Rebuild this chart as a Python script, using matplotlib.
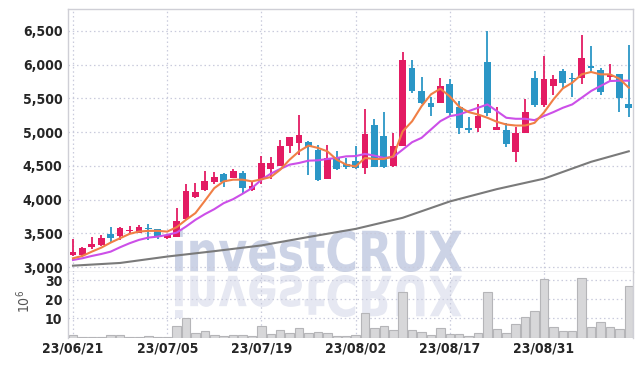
"""
candle chart with moving averages and volume panel
"""
import matplotlib
matplotlib.use('Agg')
import matplotlib.pyplot as plt
import numpy as np
from matplotlib.ticker import FuncFormatter, FixedLocator
from matplotlib.textpath import TextPath
from matplotlib.patches import PathPatch
from matplotlib.font_manager import FontProperties
from matplotlib.transforms import Affine2D, IdentityTransform

# ---- data (prices in KRW, volume in 10^6 shares) ----
opens = [3180, 3180, 3300, 3330, 3490, 3455, 3540, 3510, 3580, 3560,
         3425, 3450, 3715, 4035, 4145, 4255, 4385, 4320, 4400, 4135,
         4300, 4455, 4505, 4800, 4840, 4850, 4740, 4305, 4620, 4530,
         4565, 4470, 5105, 4945, 4495, 4800, 5945, 5615, 5430, 5430,
         5720, 5375, 5065, 5065, 6035, 5030, 5030, 4705, 4990, 5805,
         5405, 5685, 5900, 5800, 5810, 5980, 5915, 5815, 5855, 5410]
highs = [3410, 3295, 3450, 3475, 3600, 3600, 3610, 3620, 3640, 3560,
         3480, 3870, 4235, 4240, 4430, 4410, 4390, 4455, 4430, 4270,
         4650, 4630, 4880, 4930, 5255, 4870, 4815, 4815, 4715, 4620,
         4790, 5345, 5195, 5295, 4985, 6195, 6065, 5820, 5525, 5810,
         5790, 5460, 5230, 5410, 6500, 5375, 5135, 5080, 5485, 5905,
         6135, 5840, 5940, 5870, 6440, 6280, 5955, 6015, 5855, 6290]
lows = [3160, 3145, 3265, 3310, 3360, 3400, 3500, 3500, 3400, 3410,
        3410, 3450, 3700, 4025, 4120, 4235, 4190, 4320, 4085, 4125,
        4230, 4305, 4495, 4690, 4665, 4370, 4270, 4305, 4435, 4460,
        4460, 4385, 4485, 4475, 4490, 4800, 5575, 5420, 5245, 5430,
        5240, 4965, 4990, 5005, 5245, 5030, 4780, 4560, 4985, 5375,
        5380, 5545, 5650, 5525, 5710, 5880, 5550, 5760, 5300, 5230]
closes = [3225, 3280, 3340, 3430, 3435, 3575, 3555, 3590, 3570, 3440,
          3470, 3675, 4120, 4115, 4270, 4335, 4255, 4420, 4170, 4200,
          4535, 4545, 4800, 4925, 4960, 4780, 4295, 4620, 4460, 4480,
          4470, 4975, 4490, 4480, 4800, 6065, 5610, 5430, 5370, 5685,
          5280, 5065, 5030, 5245, 5280, 5080, 4830, 4990, 5300, 5400,
          5795, 5790, 5730, 5790, 6105, 5945, 5595, 5840, 5500, 5355]
volume = [1.2, 0.4, 0.4, 0.4, 1.4, 1.4, 0.4, 0.4, 0.9, 0.4,
          0.1, 6.2, 10.3, 2.5, 3.4, 1.2, 0.7, 1.2, 1.2, 0.7,
          6.2, 1.9, 3.9, 2.5, 5.0, 2.5, 2.8, 2.3, 0.7, 0.8,
          1.4, 12.9, 5.0, 6.0, 3.9, 23.9, 3.9, 2.8, 1.2, 5.0,
          1.8, 1.8, 0.7, 2.3, 23.9, 4.4, 2.5, 7.1, 10.6, 14.0,
          30.4, 5.5, 3.4, 3.4, 31.0, 5.5, 8.1, 5.5, 4.4, 26.9]

# moving averages
ma_short = [3130, 3164, 3228, 3287, 3362, 3427, 3491, 3526, 3536, 3536,
            3525, 3590, 3700, 3800, 3982, 4170, 4270, 4295, 4295, 4270,
            4300, 4335, 4443, 4592, 4716, 4800, 4766, 4716, 4592, 4518,
            4490, 4617, 4602, 4602, 4641, 5012, 5161, 5384, 5560, 5644,
            5530, 5377, 5297, 5262, 5213, 5153, 5113, 5098, 5098, 5138,
            5292, 5485, 5649, 5733, 5857, 5892, 5857, 5857, 5793, 5659]
ma_mid = [3104, 3130, 3164, 3193, 3228, 3293, 3352, 3402, 3436, 3451,
          3476, 3510, 3600, 3700, 3784, 3858, 3947, 4006, 4086, 4170,
          4295, 4384, 4454, 4518, 4543, 4577, 4582, 4602, 4617, 4641,
          4645, 4677, 4652, 4617, 4632, 4741, 4851, 4915, 5039, 5163,
          5237, 5262, 5312, 5361, 5411, 5312, 5213, 5198, 5198, 5178,
          5240, 5297, 5361, 5411, 5510, 5610, 5684, 5758, 5763, 5763]
ma_long_idx = [0, 5, 10, 15, 20, 25, 30, 35, 40, 45, 50, 55, 59]
ma_long = [3020, 3060, 3155, 3235, 3320, 3445, 3565, 3730, 3972, 4155, 4310, 4560, 4716]

dates = ['23/06/21', '23/07/05', '23/07/19', '23/08/02', '23/08/17', '23/08/31']
date_idx = [0, 10, 20, 30, 40, 50]
price_ticks = [3000, 3500, 4000, 4500, 5000, 5500, 6000, 6500]
vol_ticks = [10, 20, 30]

UP = '#e31b63'
DOWN = '#2b96c6'
GRID = '#c9cbdc'

plt.rcParams['font.family'] = ['DejaVu Sans']
plt.rcParams['font.stretch'] = 'condensed'

tick_font = FontProperties(family='DejaVu Sans', stretch='condensed',
                           weight='bold', size=10)


def style_axes(ax):
    ax.grid(True, color=GRID, linestyle=(0, (1.2, 2.2)), linewidth=0.9)
    ax.set_axisbelow(True)
    ax.tick_params(length=0, labelcolor='#262626')
    for lbl in ax.get_yticklabels() + ax.get_xticklabels():
        lbl.set_fontproperties(tick_font)
    for side in ['left', 'right', 'top', 'bottom']:
        ax.spines[side].set_color('#cfcfd6')
        ax.spines[side].set_linewidth(1.0)


def add_watermark(ax, flip=False):
    tp = TextPath((0, 0), 'investCRUX', size=100,
                  prop=FontProperties(family='DejaVu Sans', weight='bold',
                                      stretch='condensed'))
    ext = tp.get_extents()
    # target box in pixels (origin bottom-left): x 175..462, baseline 94, cap height 42
    sx = 287.0 / ext.width
    sy = 43.0 / ext.height
    if flip:
        trf = Affine2D().translate(-ext.x0, -ext.y0).scale(sx, -sy).translate(175, 91)
        col = '#e6e8f2'
    else:
        trf = Affine2D().translate(-ext.x0, -ext.y0).scale(sx, sy).translate(175, 94)
        col = '#ccd3e6'
    patch = PathPatch(trf.transform_path(tp), facecolor=col, edgecolor='none',
                      transform=IdentityTransform(), zorder=0.5)
    ax.add_artist(patch)


fig = plt.figure(figsize=(6.42, 3.66), dpi=100)
ax = fig.add_axes([68 / 642, 94 / 366, 565 / 642, 263 / 366])
vax = fig.add_axes([68 / 642, 28.5 / 366, 565 / 642, 65.5 / 366], sharex=ax)

x = np.arange(len(closes))
o = np.array(opens)
c = np.array(closes)
up = c >= o
colors = [UP if u else DOWN for u in up]

# wicks and bodies
ax.vlines(x, lows, highs, colors=colors, linewidth=1.3, zorder=3)
body_low = np.minimum(o, c)
body_h = np.maximum(np.abs(c - o), 12)
ax.bar(x, body_h, bottom=body_low, width=0.72, color=colors, zorder=4)

# moving averages
ax.plot(ma_long_idx, ma_long, color='#7a7a7a', linewidth=1.5, zorder=2)
ax.plot(x, ma_mid, color='#cc4fe8', linewidth=1.5, zorder=5)
ax.plot(x, ma_short, color='#f07f45', linewidth=1.5, zorder=5)

# volume
vax.bar(x, volume, width=0.9, color='#d7d7d9', edgecolor='#b5b5b8',
        linewidth=0.8, zorder=2)

ax.set_xlim(-0.53, 59.45)
ax.set_ylim(2926, 6826)
ax.yaxis.set_major_locator(FixedLocator(price_ticks))
ax.yaxis.set_major_formatter(FuncFormatter(lambda v, p: '{:,.0f}'.format(v)))
ax.xaxis.set_major_locator(FixedLocator(date_idx))
plt.setp(ax.get_xticklabels(), visible=False)

vax.set_ylim(0, 34.2)
vax.yaxis.set_major_locator(FixedLocator(vol_ticks))
vax.set_xticks(date_idx)
vax.set_xticklabels(dates)
vax.set_ylabel('$10^6$', fontsize=10, color='#555555')
vax.yaxis.set_label_coords(-0.062, 0.55)

style_axes(ax)
style_axes(vax)
ax.tick_params(axis='y', pad=4)
vax.tick_params(axis='y', pad=4)
vax.tick_params(axis='x', pad=3)
ax.spines['bottom'].set_color('#bdbdc4')
vax.spines['top'].set_visible(False)
vax.spines['bottom'].set_visible(False)

add_watermark(ax)
add_watermark(vax, flip=True)

plt.savefig('out.png', dpi=100)
